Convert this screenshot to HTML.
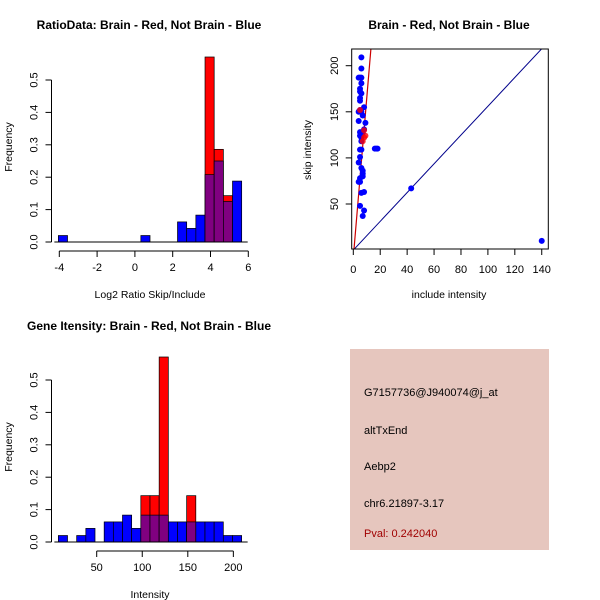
<!DOCTYPE html>
<html><head><meta charset="utf-8"><style>
body{margin:0;background:#fff;}
svg{display:block;font-family:"Liberation Sans",sans-serif;}
</style></head><body>
<svg id="s" width="600" height="600" xmlns="http://www.w3.org/2000/svg">
<rect width="600" height="600" fill="#fff"/>
<text x="149" y="29" font-size="12" font-weight="bold" text-anchor="middle">RatioData: Brain - Red, Not Brain - Blue</text>
<text x="449" y="29" font-size="12" font-weight="bold" text-anchor="middle">Brain - Red, Not Brain - Blue</text>
<text x="149" y="330" font-size="12" font-weight="bold" text-anchor="middle">Gene Itensity: Brain - Red, Not Brain - Blue</text>
<text x="150" y="298" font-size="10.5" text-anchor="middle">Log2 Ratio Skip/Include</text>
<text x="150" y="598" font-size="10.5" text-anchor="middle">Intensity</text>
<text x="449" y="298" font-size="10.5" text-anchor="middle">include intensity</text>
<text transform="translate(12,147) rotate(-90)" font-size="10.5" text-anchor="middle">Frequency</text>
<text transform="translate(12,447) rotate(-90)" font-size="10.5" text-anchor="middle">Frequency</text>
<text transform="translate(311,150) rotate(-90)" font-size="10.5" text-anchor="middle">skip intensity</text>
<g>
<rect x="350" y="349" width="199" height="201" fill="#e6c6be"/>
<text x="364" y="396" font-size="11">G7157736@J940074@j_at</text>
<text x="364" y="434" font-size="11">altTxEnd</text>
<text x="364" y="470" font-size="11">Aebp2</text>
<text x="364" y="507" font-size="11">chr6.21897-3.17</text>
<text x="364" y="537" font-size="11" fill="#a00000">Pval: 0.242040</text>
</g>
<g id="g1"></g><g id="g2"></g><g id="g3"></g>
</svg>
<script>
const ratioBreakStart=-4.05, ratioBinWidth=0.485;
const ratioBlue=[0.02,0,0,0,0,0,0,0,0,0.02,0,0,0,0.062,0.042,0.083,0.208,0.25,0.125,0.188];
const ratioRed=[0,0,0,0,0,0,0,0,0,0,0,0,0,0,0,0,0.571,0.286,0.143,0];
const ratioXTicks=[-4,-2,0,2,4,6];
const freqTicks=[0,0.1,0.2,0.3,0.4,0.5];
const intBreakStart=7.9, intBinWidth=10.06;
const intBlue=[0.02,0,0.02,0.042,0,0.062,0.062,0.083,0.042,0.083,0.083,0.083,0.062,0.062,0.062,0.062,0.062,0.062,0.02,0.02];
const intRed=[0,0,0,0,0,0,0,0,0,0.143,0.143,0.571,0,0,0.143,0,0,0,0,0];
const intXTicks=[50,100,150,200];
const scatBlueX=[6,6,4,5,6,6,5,5,6,5,5,8,5,4,6,7,4,9,8,5,7,5,6,6,5,6,5,4,6,7,7,7,5,4,5,6,8,5,8,7,16,17,18,43,140];
const scatBlueY=[209,197,187,187,187,181,175,172,170,165,162,155,152,150,150,146,140,138,131,128,127,124,122,118,109,109,101,95,89,86,83,80,78,74,74,62,63,48,43,37,110,110,110,67,10];
const scatRedX=[9,8,7,5,8];
const scatRedY=[124,122,118,152,130];
const scatXTicks=[0,20,40,60,80,100,120,140];
const scatYTicks=[50,100,150,200];
const redSlope=17.3, redIntercept=-8;
const blueSlope=1.56, blueIntercept=0;

const NS="http://www.w3.org/2000/svg";
function mk(p,t,a){const e=document.createElementNS(NS,t);for(const k in a)e.setAttribute(k,a[k]);p.appendChild(e);return e;}

function hist(g,start,w,blue,red,xf,yf){
  for(let i=0;i<blue.length;i++){
    const x0=xf(start+i*w),x1=xf(start+(i+1)*w);
    const b=blue[i],r=red[i];
    const hi=Math.max(b,r),lo=Math.min(b,r);
    if(hi<=0)continue;
    const col=r>b?"#ff0000":"#0000ff";
    const e=mk(g,"rect",{x:x0,y:yf(hi),width:x1-x0,height:yf(0)-yf(hi),fill:col,stroke:"#000","stroke-width":0.7});
    
    
    if(lo>0){
      const p=mk(g,"rect",{x:x0,y:yf(lo),width:x1-x0,height:yf(0)-yf(lo),fill:"#800080",stroke:"#000","stroke-width":0.7});
      
      
    }
  }
}
function yAxis(g,yf,ax){
  mk(g,"line",{x1:ax,x2:ax,y1:yf(0),y2:yf(0.5),stroke:"#000"});
  freqTicks.forEach(t=>{
    mk(g,"line",{x1:ax-6,x2:ax,y1:yf(t),y2:yf(t),stroke:"#000"});
    const tx=mk(g,"text",{transform:`translate(${ax-14},${yf(t)}) rotate(-90)`,"font-size":11,"text-anchor":"middle"});
    tx.textContent=t.toFixed(1);
    
    
  });
}
function xAxis(g,ticks,xf,ay){
  mk(g,"line",{x1:xf(ticks[0]),x2:xf(ticks[ticks.length-1]),y1:ay,y2:ay,stroke:"#000"});
  ticks.forEach(t=>{
    mk(g,"line",{x1:xf(t),x2:xf(t),y1:ay,y2:ay+6,stroke:"#000"});
    const tx=mk(g,"text",{x:xf(t),y:ay+20,"font-size":11,"text-anchor":"middle"});
    tx.textContent=t;
    
    
  });
}
const g1=document.getElementById("g1");


const x1f=v=>59.3+(v+4)*18.9, y1f=v=>242-v*324;
hist(g1,ratioBreakStart,ratioBinWidth,ratioBlue,ratioRed,x1f,y1f);
mk(g1,"line",{x1:x1f(ratioBreakStart)-4,x2:x1f(ratioBreakStart+20*ratioBinWidth)+6,y1:242,y2:242,stroke:"#000"});
yAxis(g1,y1f,51.5);
xAxis(g1,ratioXTicks,x1f,251);
const g3=document.getElementById("g3");


const x3f=v=>96.7+(v-50)*0.911, y3f=v=>542-v*324;
hist(g3,intBreakStart,intBinWidth,intBlue,intRed,x3f,y3f);
mk(g3,"line",{x1:x3f(intBreakStart)-4,x2:x3f(intBreakStart+20*intBinWidth)+6,y1:542,y2:542,stroke:"#000"});
yAxis(g3,y3f,51.5);
xAxis(g3,intXTicks,x3f,551);
const g2=document.getElementById("g2");


const sx=v=>353.3+v*1.346, sy=v=>250.1-v*0.922;
const cp=mk(g2,"clipPath",{id:"cp"});mk(cp,"rect",{x:352,y:49,width:196,height:200});
const lines=mk(g2,"g",{"clip-path":"url(#cp)"});
const bl=mk(lines,"line",{x1:sx(0),y1:sy(blueIntercept),x2:sx(160),y2:sy(blueIntercept+blueSlope*160),stroke:"#00008b"});


const rl=mk(lines,"line",{x1:sx(0),y1:sy(redIntercept),x2:sx(14),y2:sy(redIntercept+redSlope*14),stroke:"#cc0000","stroke-width":1.2});


scatBlueX.forEach((v,i)=>{
  const c=mk(g2,"circle",{cx:sx(v),cy:sy(scatBlueY[i]),r:3,fill:"#0000ff"});
  
  
});
scatRedX.forEach((v,i)=>{
  const c=mk(g2,"circle",{cx:sx(v),cy:sy(scatRedY[i]),r:3,fill:"#ff0000","fill-opacity":0.8});
  
  
});
mk(g2,"rect",{x:351.7,y:49,width:196.6,height:200,fill:"none",stroke:"#000"});
scatXTicks.forEach(t=>{
  mk(g2,"line",{x1:sx(t),x2:sx(t),y1:249,y2:255,stroke:"#000"});
  const tx=mk(g2,"text",{x:sx(t),y:273,"font-size":11,"text-anchor":"middle"});
  tx.textContent=t;
  
  
});
scatYTicks.forEach(t=>{
  mk(g2,"line",{x1:345.7,x2:351.7,y1:sy(t),y2:sy(t),stroke:"#000"});
  const tx=mk(g2,"text",{transform:`translate(338,${sy(t)}) rotate(-90)`,"font-size":11,"text-anchor":"middle"});
  tx.textContent=t;
  
  
});
</script>
</body></html>
